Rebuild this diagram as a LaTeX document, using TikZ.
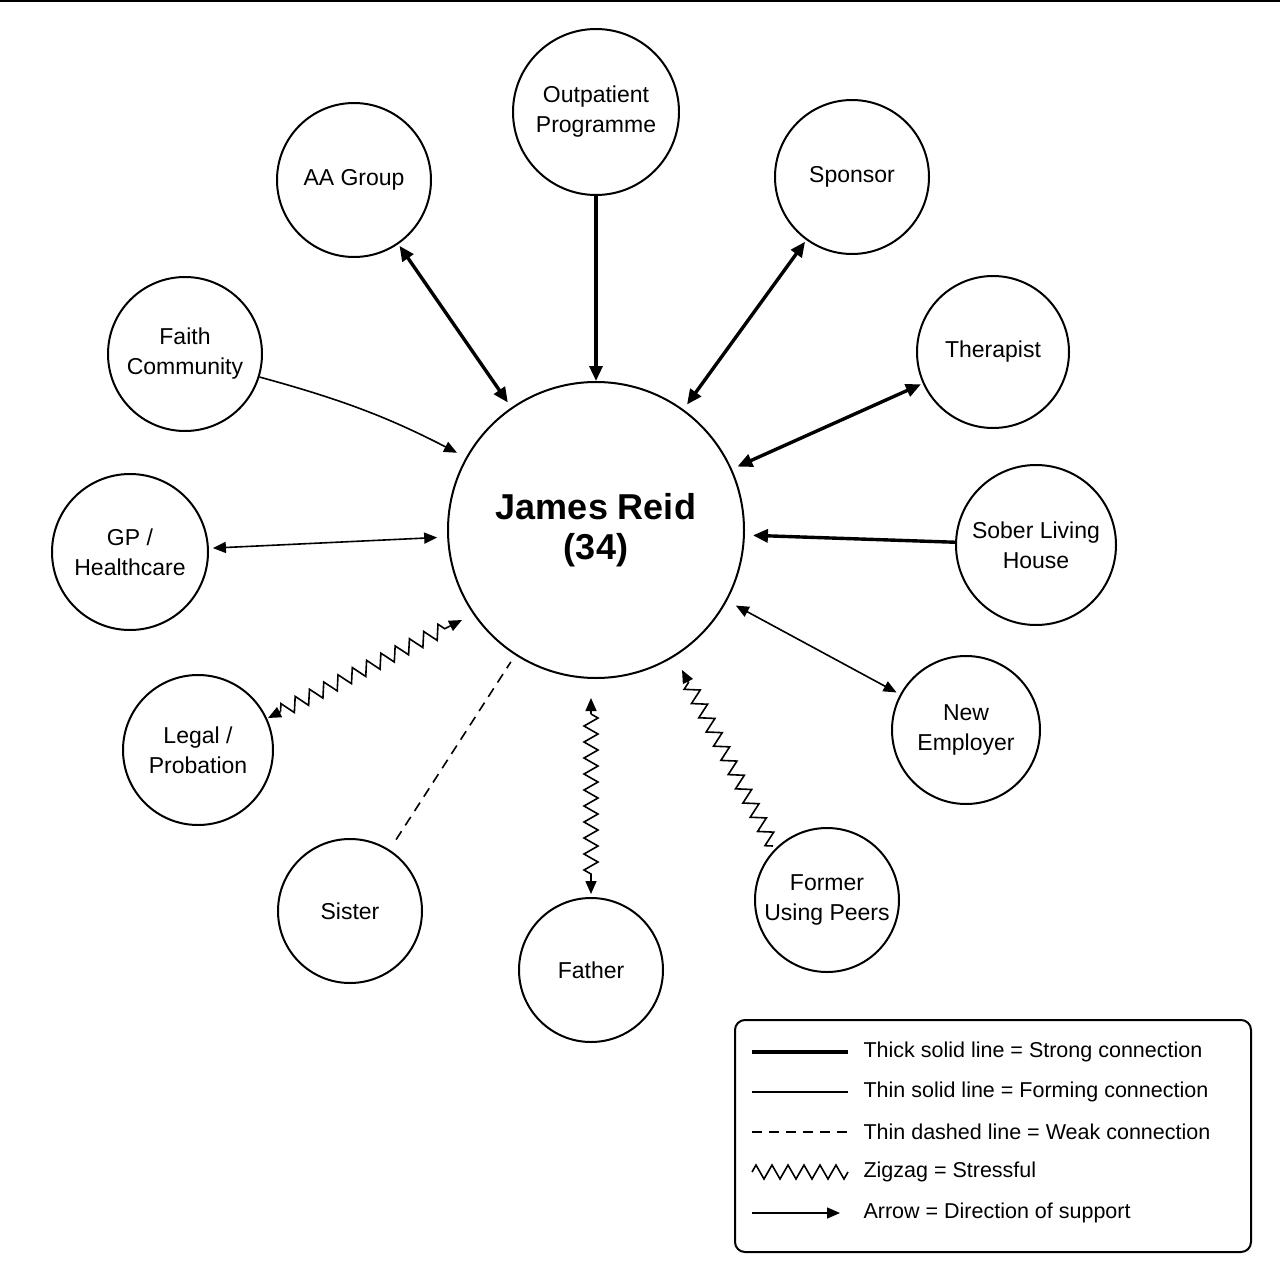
\documentclass[tikz,border=0pt]{standalone}
\usepackage{fontspec}
\setmainfont{Liberation Sans}
\usetikzlibrary{arrows.meta,decorations.pathmorphing,calc}
\begin{document}
\begin{tikzpicture}[x=1pt,y=-1pt,
  c/.style={circle,draw,line width=2pt,inner sep=0pt,align=center,font=\fontsize{23}{30}\selectfont},
  thick/.style={line width=3.4pt,-{Triangle[length=15pt,width=13pt]}},
  thin/.style={line width=1.6pt,-{Triangle[length=13pt,width=11pt]}},
  zz/.style={line width=1.6pt,decorate,decoration={zigzag,segment length=16pt,amplitude=7pt}},
  ah/.style={line width=1.6pt,-{Triangle[length=13pt,width=11pt]}}]
\useasboundingbox (0,0) rectangle (1280,1279);
\draw[line width=2pt] (0,1) -- (1280,1);
\node[c,minimum size=296pt,font=\bfseries\fontsize{36}{40}\selectfont] (J) at (596,530) {James Reid\\(34)};
\node[c,minimum size=166pt] (O) at (596,112) {Outpatient\\Programme};
\node[c,minimum size=154pt] (AA) at (354,180) {AA Group};
\node[c,minimum size=154pt] (S) at (852,177) {Sponsor};
\node[c,minimum size=154pt] (F) at (185,354) {Faith\\Community};
\node[c,minimum size=152pt] (T) at (993,352) {Therapist};
\node[c,minimum size=156pt] (G) at (130,552) {GP /\\Healthcare};
\node[c,minimum size=160pt] (SL) at (1036,545) {Sober Living\\House};
\node[c,minimum size=150pt] (L) at (198,750) {Legal /\\Probation};
\node[c,minimum size=148pt] (N) at (966,730) {New\\Employer};
\node[c,minimum size=144pt] (Si) at (350,911) {Sister};
\node[c,minimum size=144pt] (Fa) at (591,970) {Father};
\node[c,minimum size=144pt] (P) at (827,900) {Former\\Using Peers};
% connectors
\draw[thick] (O) -- (J);
\draw[thick,{Triangle[length=15pt,width=13pt]}-{Triangle[length=15pt,width=13pt]},shorten <=2pt,shorten >=6pt] (AA) -- (J);
\draw[thick,{Triangle[length=15pt,width=13pt]}-{Triangle[length=15pt,width=13pt]},shorten <=2pt,shorten >=6pt] (S) -- (J);
\draw[thick,{Triangle[length=15pt,width=13pt]}-{Triangle[length=15pt,width=13pt]},shorten <=2pt,shorten >=6pt] (T) -- (J);
\draw[thick,shorten >=8pt] (SL) -- (J);
\draw[thin,shorten >=10pt] (F) to[bend left=6] (J);
\draw[thin,{Triangle[length=13pt,width=11pt]}-{Triangle[length=13pt,width=11pt]},shorten <=4pt,shorten >=10pt] (G) -- (J);
\draw[thin,{Triangle[length=13pt,width=11pt]}-{Triangle[length=13pt,width=11pt]},shorten <=4pt,shorten >=10pt] (N) -- (J);
\draw[line width=1.6pt,dash pattern=on 10pt off 7pt,shorten <=12pt,shorten >=8pt] (Si) -- (J);
% zigzags
\coordinate (La) at (268,718); \coordinate (Lb) at (462,620);
\coordinate (La2) at ($(La)!14pt!(Lb)$); \coordinate (Lb2) at ($(Lb)!14pt!(La)$);
\draw[zz] (La2) -- (Lb2);
\draw[ah] (La2) -- (La); \draw[ah] (Lb2) -- (Lb);
\coordinate (Fa1) at (591,698); \coordinate (Fa2) at (591,894);
\coordinate (Fa1b) at (591,714); \coordinate (Fa2b) at (591,878);
\draw[zz] (Fa1b) -- (Fa2b);
\draw[ah] (Fa1b) -- (Fa1); \draw[ah] (Fa2b) -- (Fa2);
\coordinate (Pa) at (773,846); \coordinate (Pb) at (682,670);
\coordinate (Pb2) at ($(Pb)!14pt!(Pa)$);
\draw[zz] (Pa) -- (Pb2);
\draw[ah] (Pb2) -- (Pb);
% legend
\draw[line width=2pt,rounded corners=10pt] (735,1020) rectangle (1251,1252);
\begin{scope}[every node/.style={anchor=west,font=\fontsize{21.5}{26}\selectfont}]
\coordinate (a1) at (752,1052); \coordinate (b1) at (848,1052);
\draw[line width=4.5pt] (a1) -- (b1);
\node at (860,1052) {Thick solid line = Strong connection};
\coordinate (a2) at (752,1092); \coordinate (b2) at (848,1092);
\draw[line width=1.6pt] (a2) -- (b2);
\node at (860,1092) {Thin solid line = Forming connection};
\coordinate (a3) at (752,1132); \coordinate (b3) at (848,1132);
\draw[line width=1.6pt,dash pattern=on 10pt off 7pt] (a3) -- (b3);
\node at (860,1132) {Thin dashed line = Weak connection};
\coordinate (a4) at (752,1172); \coordinate (b4) at (848,1172);
\draw[line width=1.6pt,decorate,decoration={zigzag,segment length=16pt,amplitude=7pt}] (a4) -- (b4);
\node at (860,1172) {Zigzag = Stressful};
\coordinate (a5) at (752,1213); \coordinate (b5) at (840,1213);
\draw[ah] (a5) -- (b5);
\node at (860,1213) {Arrow = Direction of support};
\end{scope}
\end{tikzpicture}
\end{document}
